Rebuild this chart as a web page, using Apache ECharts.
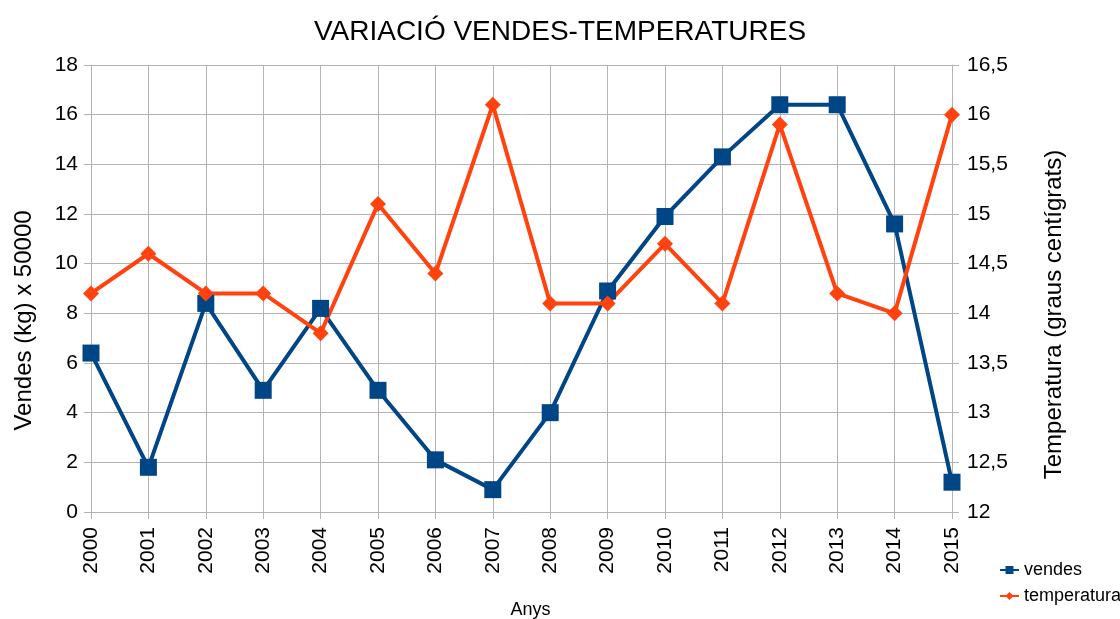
<!DOCTYPE html>
<html>
<head>
<meta charset="utf-8">
<script src="https://cdn.jsdelivr.net/npm/echarts@6/dist/echarts.min.js"></script>
<style>
  html, body { margin: 0; padding: 0; background: #fff; }
  #chart { width: 1120px; height: 619px; }
</style>
</head>
<body>
<div id="chart"></div>
<script>
const years = ['2000', '2001', '2002', '2003', '2004', '2005', '2006', '2007',
  '2008', '2009', '2010', '2011', '2012', '2013', '2014', '2015']
const vendes = [6.4, 1.8, 8.4, 4.9, 8.2, 4.9, 2.1, 0.9, 4.0, 8.9, 11.9, 14.3, 16.4, 16.4, 11.6, 1.2]
const temperatura = [14.2, 14.6, 14.2, 14.2, 13.8, 15.1, 14.4, 16.1, 14.1, 14.1, 14.7, 14.1, 15.9, 14.2, 14.0, 16.0]

const font = 'Liberation Sans, Arial, sans-serif'
const gridColor = '#b3b3b3'

const chart = echarts.init(document.getElementById('chart'))

const option = {
  animation: false,
  textStyle: { fontFamily: font, color: '#000' },
  title: {
    text: 'VARIACIÓ VENDES-TEMPERATURES',
    left: 'center',
    top: 13,
    textStyle: { fontFamily: font, fontSize: 28, fontWeight: 'normal', color: '#000' }
  },
  legend: {
    orient: 'vertical',
    left: 999,
    top: 561,
    padding: 0,
    itemWidth: 19,
    itemHeight: 10,
    itemGap: 8,
    textStyle: { fontFamily: font, fontSize: 18, color: '#000' },
    data: ['vendes', 'temperatura']
  },
  grid: {
    left: 91,
    right: 168,
    top: 65,
    bottom: 107,
    outerBoundsMode: 'none'
  },
  xAxis: {
    type: 'category',
    boundaryGap: false,
    data: years,
    name: 'Anys',
    nameLocation: 'middle',
    nameGap: 89,
    nameTextStyle: { fontFamily: font, fontSize: 18, color: '#000', padding: [0, 0, 0, 18] },
    axisLine: { lineStyle: { color: gridColor } },
    axisTick: { show: true, length: 7, lineStyle: { color: gridColor } },
    axisLabel: { rotate: 90, fontSize: 21, color: '#000', margin: 15, fontFamily: font },
    splitLine: { show: true, lineStyle: { color: gridColor, width: 1 } }
  },
  yAxis: [{
    type: 'value',
    min: 0,
    max: 18,
    interval: 2,
    name: 'Vendes (kg) x 50000',
    nameLocation: 'middle',
    nameGap: 55,
    nameRotate: 90,
    nameTextStyle: { fontFamily: font, fontSize: 24, color: '#000', padding: [0, 64, 0, 0] },
    axisLine: { show: true, lineStyle: { color: gridColor } },
    axisTick: { show: true, length: 7, lineStyle: { color: gridColor } },
    axisLabel: { fontSize: 21, color: '#000', margin: 13, fontFamily: font },
    splitLine: { show: true, lineStyle: { color: gridColor, width: 1 } }
  }, {
    type: 'value',
    min: 12,
    max: 16.5,
    interval: 0.5,
    position: 'right',
    name: 'Temperatura (graus centígrats)',
    nameLocation: 'middle',
    nameGap: 90,
    nameRotate: 90,
    nameTextStyle: { fontFamily: font, fontSize: 24, color: '#000', padding: [0, 52, 0, 0] },
    axisLine: { show: true, lineStyle: { color: gridColor } },
    axisTick: { show: true, length: 7, lineStyle: { color: gridColor } },
    axisLabel: {
      fontSize: 21,
      color: '#000',
      margin: 15,
      fontFamily: font,
      formatter: (v) => String(v).replace('.', ',')
    },
    splitLine: { show: false }
  }],
  series: [
    {
      name: 'vendes',
      type: 'line',
      yAxisIndex: 0,
      data: vendes,
      symbol: 'rect',
      symbolSize: 17,
      lineStyle: { color: '#004586', width: 4 },
      itemStyle: { color: '#004586' }
    },
    {
      name: 'temperatura',
      type: 'line',
      yAxisIndex: 1,
      data: temperatura,
      symbol: 'diamond',
      symbolSize: 16,
      lineStyle: { color: '#ff420e', width: 4 },
      itemStyle: { color: '#ff420e' }
    }
  ]
}

chart.setOption(option)
</script>
</body>
</html>
